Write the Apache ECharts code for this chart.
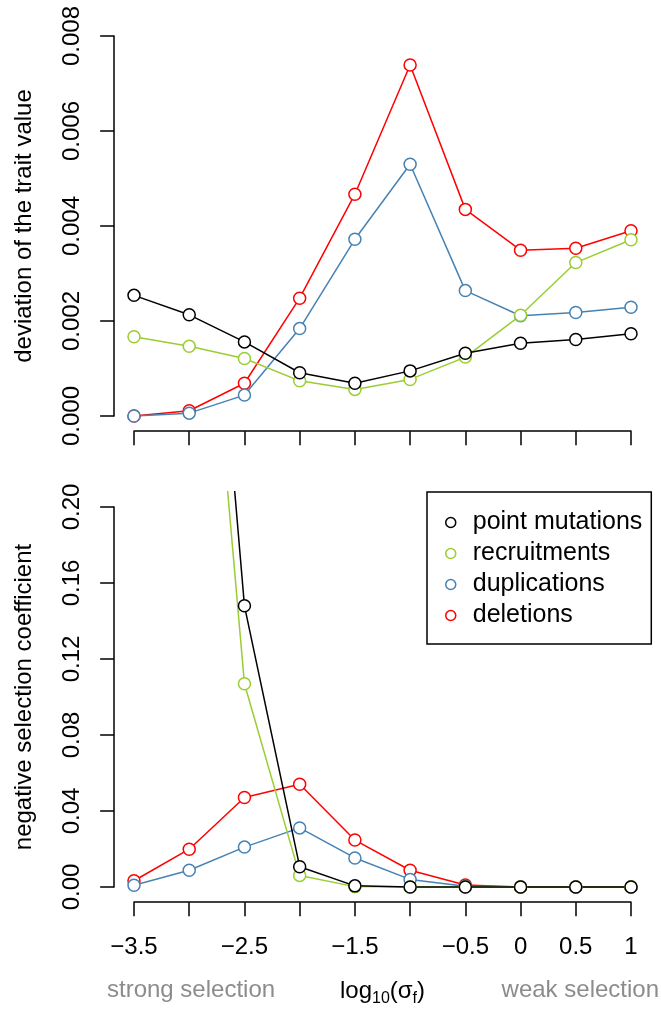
<!DOCTYPE html>
<html style="height: 100%">
<head>
<meta charset="utf-8">
<script src="https://cdn.jsdelivr.net/npm/echarts@6/dist/echarts.min.js"></script>
</head>
<body style="height: 100%; margin: 0; background: #fff">
<div id="container" style="width: 661px; height: 1010px"></div>
<script type="text/javascript">
// log10(sigma_f) values along the x axis
var xValues = [-3.5, -3, -2.5, -2, -1.5, -1, -0.5, 0, 0.5, 1];
// labels R kept (the others were dropped for overlap)
var xTickLabels = ['\u22123.5', '', '\u22122.5', '', '\u22121.5', '', '\u22120.5', '0', '0.5', '1'];

var seriesNames = ['point mutations', 'recruitments', 'duplications', 'deletions'];
var seriesColors = ['#000000', '#9acd32', '#4682b4', '#ff0000'];

// top panel: deviation of the trait value
var devPoint   = [0.00254, 0.00213, 0.00156, 0.00091, 0.00069, 0.00095, 0.00132, 0.00153, 0.00161, 0.00173];
var devRecruit = [0.00167, 0.00147, 0.00121, 0.00074, 0.00056, 0.00077, 0.00124, 0.00212, 0.00323, 0.00371];
var devDup     = [0.00000, 0.00006, 0.00044, 0.00184, 0.00372, 0.00530, 0.00264, 0.00211, 0.00218, 0.00229];
var devDel     = [0.00000, 0.00011, 0.00069, 0.00248, 0.00467, 0.00739, 0.00435, 0.00349, 0.00353, 0.00390];

// bottom panel: negative selection coefficient (first points run off the top)
var selPoint   = [0.95, 0.49, 0.148, 0.0107, 0.0006, 0, 0, 0, 0, 0];
var selRecruit = [0.80, 0.44, 0.107, 0.0061, 0.0002, 0, 0, 0, 0, 0];
var selDup     = [0.0009, 0.0088, 0.0210, 0.0311, 0.0153, 0.0040, 0.0004, 0, 0, 0];
var selDel     = [0.0033, 0.0199, 0.0471, 0.0541, 0.0247, 0.0088, 0.0011, 0, 0, 0];

var devTicks = [0, 0.008, 0.002];   // min, max, step
var selTicks = [0, 0.20, 0.04];

var FONT = 'Liberation Sans';
var dom = document.getElementById('container');
var myChart = echarts.init(dom, null, {renderer: 'canvas'});

// layout (R style: plot region padded 4% past the tick range)
var plotLeft = 134, plotRight = 631, plotH = 380;
var panelTops = [36, 507];
var pad = 0.04;
var plotW = plotRight - plotLeft;

var grids = [], xAxes = [], yAxes = [], series = [];

function addPanel(p, ticks, dataSets, yName, showXLabels, decimals) {
    var top = panelTops[p];
    // axes grid (exact tick range)
    grids.push({left: plotLeft, top: top, width: plotW, height: plotH});
    // data grid (padded region, clips the lines)
    grids.push({left: plotLeft - pad * plotW, top: top - pad * plotH,
                width: plotW * (1 + 2 * pad), height: plotH * (1 + 2 * pad)});
    var gA = grids.length - 2, gD = grids.length - 1;
    var xr = xValues[xValues.length - 1] - xValues[0];
    var yr = ticks[1] - ticks[0];
    var blackLine = {show: true, onZero: false, lineStyle: {color: '#000', width: 1.5}};

    xAxes.push({
        gridIndex: gA, type: 'value', min: xValues[0], max: xValues[xValues.length - 1], interval: 0.5,
        position: 'bottom', offset: pad * plotH,
        axisLine: blackLine,
        axisTick: {show: true, length: 14, lineStyle: {color: '#000', width: 1.5}},
        splitLine: {show: false},
        axisLabel: {
            show: showXLabels, interval: 0, margin: 33, color: '#000', fontSize: 24, fontFamily: FONT,
            formatter: function (v) {
                for (var i = 0; i < xValues.length; i++) {
                    if (Math.abs(xValues[i] - v) < 1e-6) return xTickLabels[i];
                }
                return '';
            }
        },
        name: showXLabels ? '{a|log}{s|10}{a|(\u03c3}{s|f}{a|)}' : '',
        nameLocation: 'middle', nameGap: 74,
        nameTextStyle: {
            rich: {
                a: {fontSize: 24, fontFamily: FONT, color: '#000', lineHeight: 30},
                s: {fontSize: 16, fontFamily: FONT, color: '#000', lineHeight: 16, padding: [14, 0, 0, 0]}
            }
        }
    });
    yAxes.push({
        gridIndex: gA, type: 'value', min: ticks[0], max: ticks[1], interval: ticks[2],
        position: 'left', offset: pad * plotW,
        axisLine: blackLine,
        axisTick: {show: true, length: 14, lineStyle: {color: '#000', width: 1.5}},
        splitLine: {show: false},
        axisLabel: {
            rotate: 90, margin: 30, color: '#000', fontSize: 24, fontFamily: FONT,
            formatter: function (v) { return v.toFixed(decimals); }
        },
        name: yName, nameLocation: 'middle', nameRotate: 90, nameGap: 78,
        nameTextStyle: {fontSize: 24, fontFamily: FONT, color: '#000'}
    });
    xAxes.push({gridIndex: gD, type: 'value', show: false,
                min: xValues[0] - pad * xr, max: xValues[xValues.length - 1] + pad * xr});
    yAxes.push({gridIndex: gD, type: 'value', show: false,
                min: ticks[0] - pad * yr, max: ticks[1] + pad * yr});
    var axIdx = xAxes.length - 1;

    // R drew deletions first, point mutations last
    for (var k = dataSets.length - 1; k >= 0; k--) {
        var vals = dataSets[k];
        series.push({
            type: 'line', name: seriesNames[k],
            xAxisIndex: axIdx, yAxisIndex: axIdx,
            data: xValues.map(function (x, i) { return [x, vals[i]]; }),
            symbol: 'circle', symbolSize: 12, showAllSymbol: true,
            itemStyle: {color: '#fff', borderColor: seriesColors[k], borderWidth: 1.5},
            lineStyle: {color: seriesColors[k], width: 1.5},
            clip: true, silent: true, emphasis: {disabled: true}
        });
    }
}

addPanel(0, devTicks, [devPoint, devRecruit, devDup, devDel], 'deviation of the trait value', false, 3);
addPanel(1, selTicks, [selPoint, selRecruit, selDup, selDel], 'negative selection coefficient', true, 2);

myChart.setOption({
    animation: false,
    backgroundColor: '#fff',
    grid: grids,
    xAxis: xAxes,
    yAxis: yAxes,
    series: series,
    legend: {
        data: seriesNames,
        orient: 'vertical', left: 427, top: 492,
        padding: [18, 9, 16, 18],
        itemWidth: 34, itemHeight: 10, itemGap: 6,
        icon: 'circle',
        itemStyle: {borderWidth: 1.5},
        borderColor: '#000', borderWidth: 1.5, backgroundColor: '#fff',
        selectedMode: false,
        textStyle: {fontSize: 25, fontFamily: FONT, color: '#000'}
    },
    graphic: [
        {type: 'text', left: 107, top: 978,
         style: {text: 'strong selection', fontSize: 24, fontFamily: FONT, fill: '#8c8c8c'}},
        {type: 'text', right: 2, top: 978,
         style: {text: 'weak selection', fontSize: 24, fontFamily: FONT, fill: '#8c8c8c'}}
    ]
});
</script>
</body>
</html>
